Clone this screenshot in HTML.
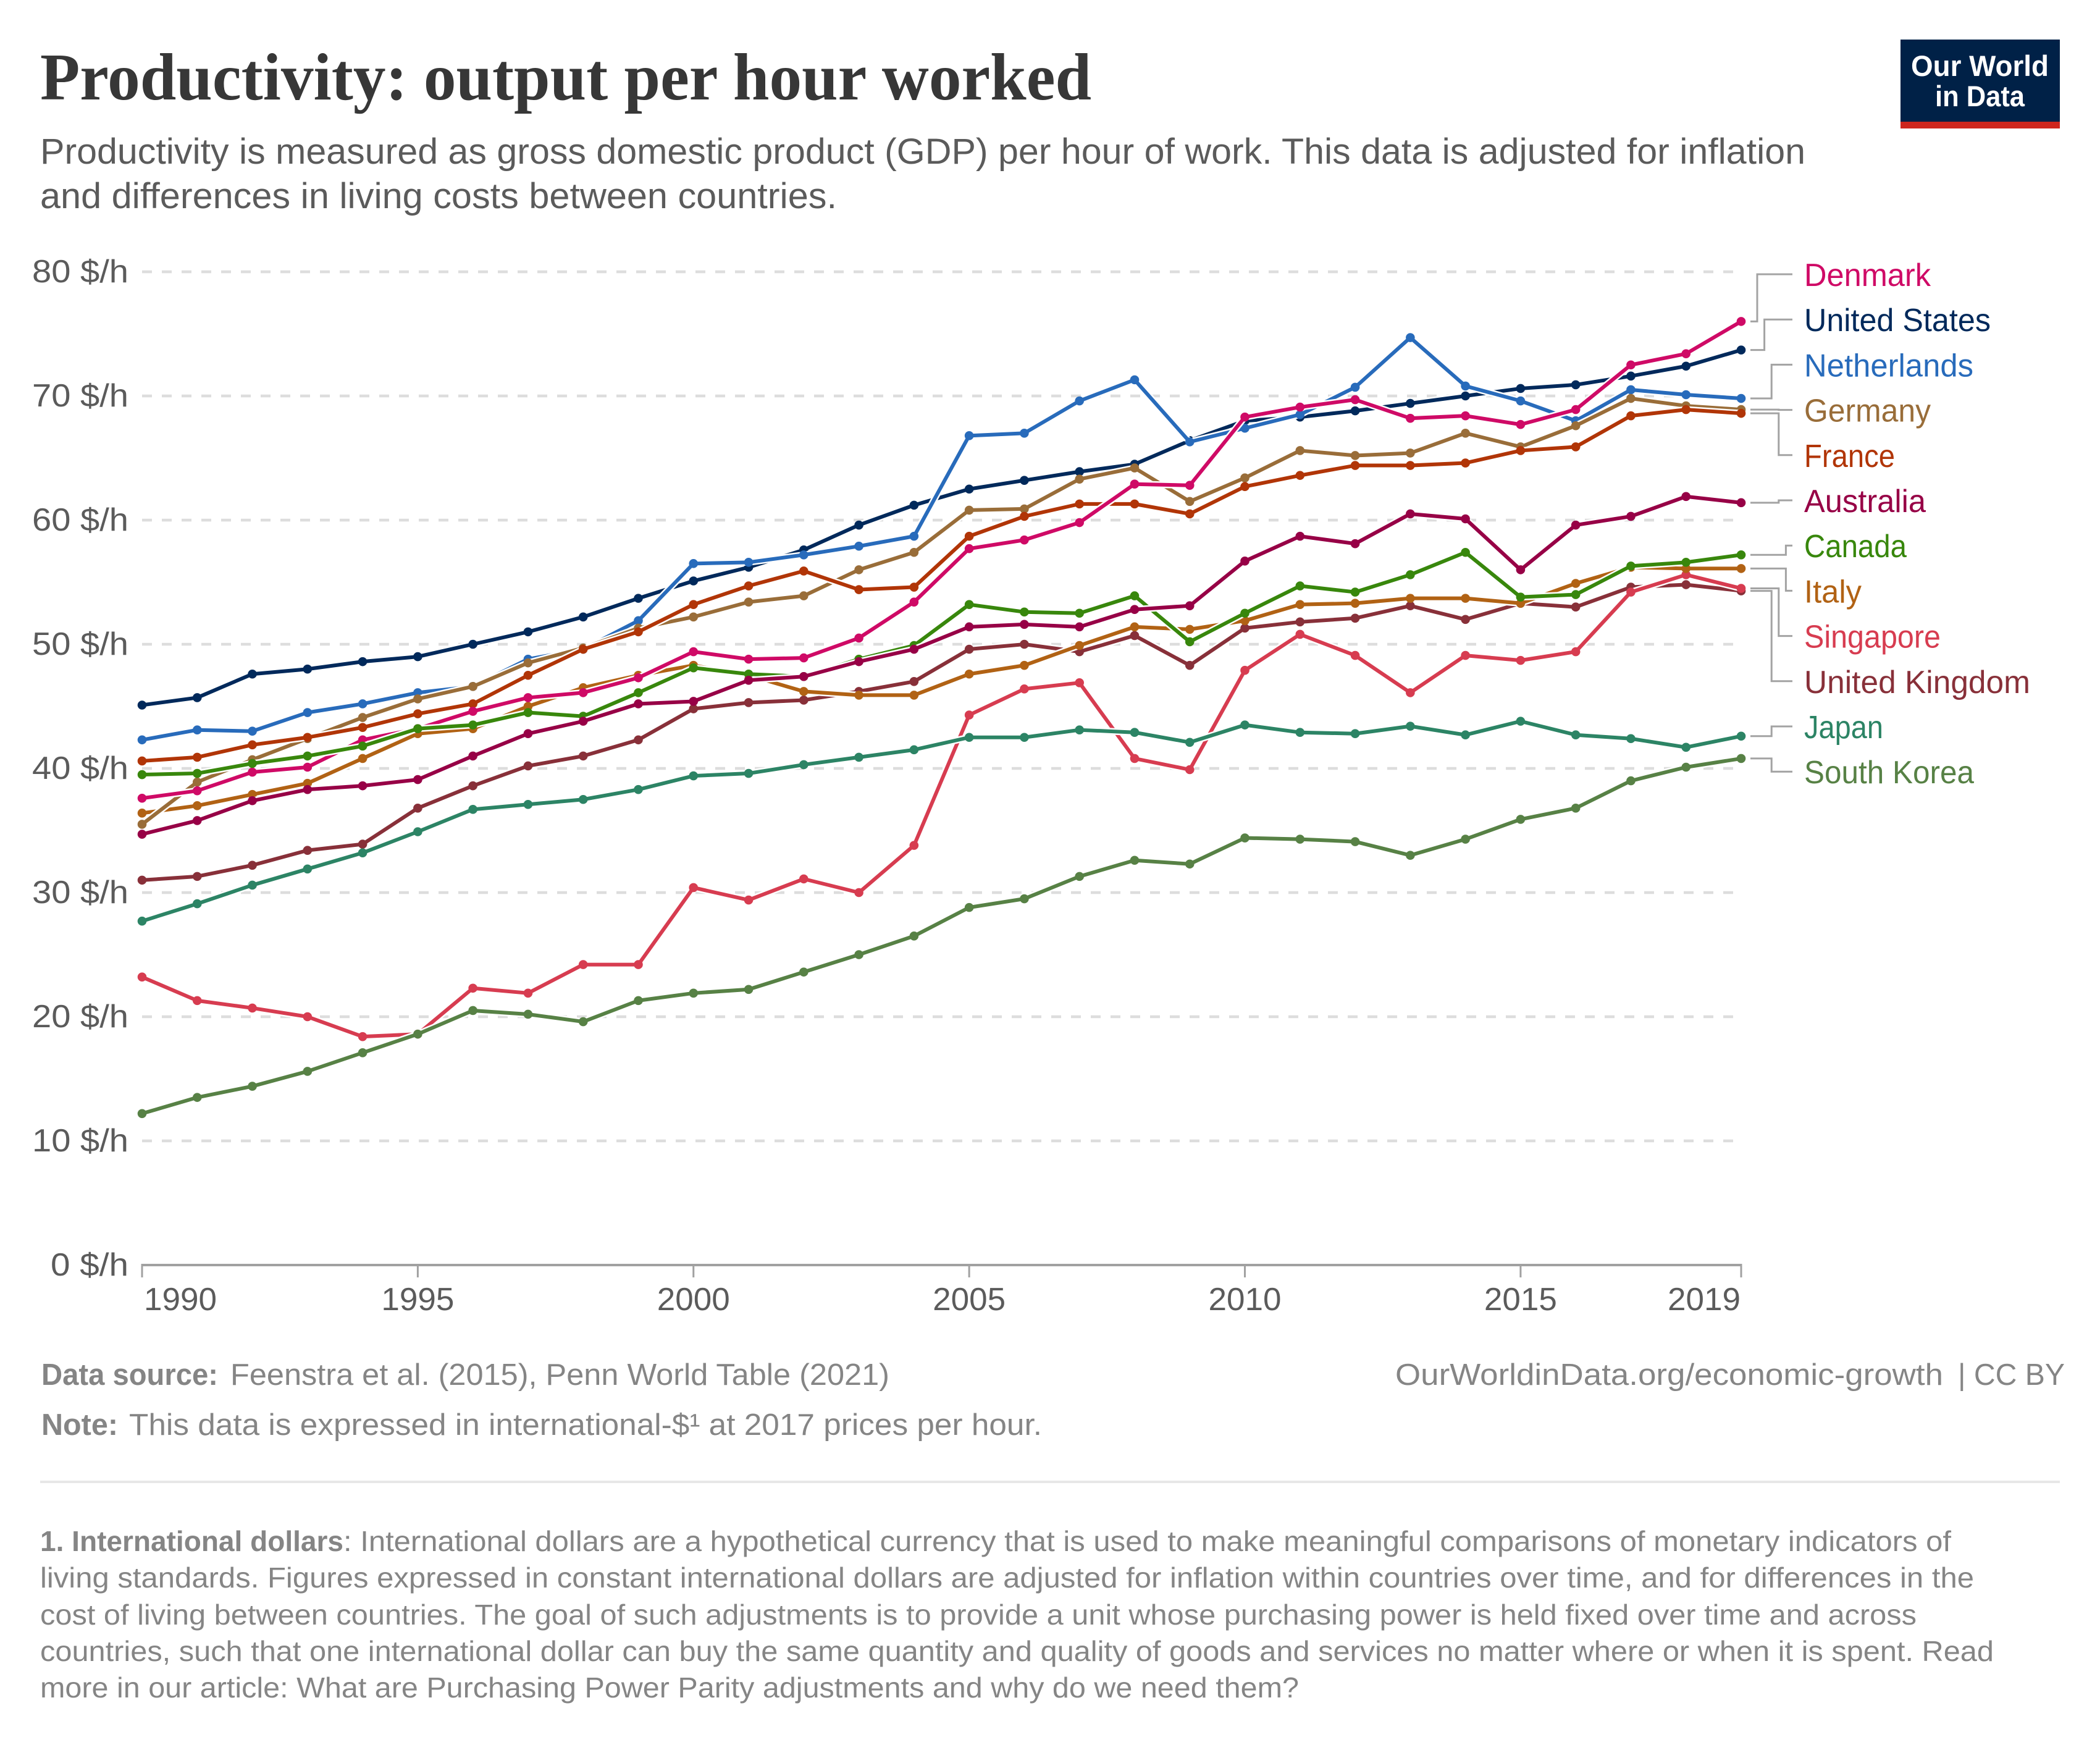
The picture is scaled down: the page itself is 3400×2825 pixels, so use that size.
<!DOCTYPE html>
<html lang="en">
<head>
<meta charset="utf-8">
<title>Productivity: output per hour worked</title>
<style>
html,body{margin:0;padding:0;background:#fff;}
svg{display:block;}
text{font-family:"Liberation Sans",sans-serif;}
.title{font-family:"Liberation Serif",serif;font-weight:700;font-size:108px;fill:#373737;}
.sub{font-size:58px;fill:#5b5b5b;}
.foot{font-size:49px;fill:#858585;}
.note{font-size:46px;fill:#858585;}
.b{font-weight:700;}
.tick{font-size:52px;fill:#5b5b5b;}
.legend{font-size:52px;}
</style>
</head>
<body>
<svg id="chart" xmlns="http://www.w3.org/2000/svg" width="3400" height="2825" viewBox="0 0 3400 2825">
  <rect width="3400" height="2825" fill="#fff"/>
  <text class="title" x="65" y="161" textLength="1702" lengthAdjust="spacingAndGlyphs">Productivity: output per hour worked</text>
  <text class="sub" x="65" y="265" textLength="2858" lengthAdjust="spacingAndGlyphs">Productivity is measured as gross domestic product (GDP) per hour of work. This data is adjusted for inflation</text>
  <text class="sub" x="65" y="337" textLength="1290" lengthAdjust="spacingAndGlyphs">and differences in living costs between countries.</text>

  <g>
    <rect x="3077" y="64" width="258" height="133" fill="#002147"/>
    <rect x="3077" y="197" width="258" height="11" fill="#ce261e"/>
    <text x="3094" y="123" font-size="47" font-weight="700" fill="#fff" textLength="223" lengthAdjust="spacingAndGlyphs">Our World</text>
    <text x="3133" y="172" font-size="47" font-weight="700" fill="#fff" textLength="145" lengthAdjust="spacingAndGlyphs">in Data</text>
  </g>

  <g id="grid"></g>
  <g id="axes"></g>
  <g id="connectors"></g>
  <g id="series"></g>
  <g id="legend"></g>

  <g>
    <text class="foot b" x="67" y="2242" textLength="286" lengthAdjust="spacingAndGlyphs">Data source:</text>
    <text class="foot" x="373" y="2242" textLength="1067" lengthAdjust="spacingAndGlyphs">Feenstra et al. (2015), Penn World Table (2021)</text>
    <text class="foot" x="2259" y="2242" textLength="887" lengthAdjust="spacingAndGlyphs">OurWorldinData.org/economic-growth</text>
    <text class="foot" x="3170" y="2242" textLength="173" lengthAdjust="spacingAndGlyphs">| CC BY</text>
    <text class="foot b" x="67" y="2323" textLength="124" lengthAdjust="spacingAndGlyphs">Note:</text>
    <text class="foot" x="209" y="2323" textLength="1478" lengthAdjust="spacingAndGlyphs">This data is expressed in international-$¹ at 2017 prices per hour.</text>
    <rect x="65" y="2397" width="3270" height="4" fill="#e7e7e7"/>
    <text class="note b" x="65" y="2511" textLength="491" lengthAdjust="spacingAndGlyphs">1. International dollars</text>
    <text class="note" x="556" y="2511" textLength="2603" lengthAdjust="spacingAndGlyphs">: International dollars are a hypothetical currency that is used to make meaningful comparisons of monetary indicators of</text>
    <text class="note" x="65" y="2570" textLength="3131" lengthAdjust="spacingAndGlyphs">living standards. Figures expressed in constant international dollars are adjusted for inflation within countries over time, and for differences in the</text>
    <text class="note" x="65" y="2630" textLength="3038" lengthAdjust="spacingAndGlyphs">cost of living between countries. The goal of such adjustments is to provide a unit whose purchasing power is held fixed over time and across</text>
    <text class="note" x="65" y="2689" textLength="3163" lengthAdjust="spacingAndGlyphs">countries, such that one international dollar can buy the same quantity and quality of goods and services no matter where or when it is spent. Read</text>
    <text class="note" x="65" y="2748" textLength="2038" lengthAdjust="spacingAndGlyphs">more in our article: What are Purchasing Power Parity adjustments and why do we need them?</text>
  </g>
</svg>

<script>
const years = [1990,1991,1992,1993,1994,1995,1996,1997,1998,1999,2000,2001,2002,2003,2004,2005,2006,2007,2008,2009,2010,2011,2012,2013,2014,2015,2016,2017,2018,2019];
const yTickValues = [0,10,20,30,40,50,60,70,80];
const xTickValues = [1990,1995,2000,2005,2010,2015,2019];
const denmark = [37.6,38.2,39.7,40.1,42.3,43.2,44.6,45.7,46.1,47.3,49.4,48.8,48.9,50.5,53.4,57.7,58.4,59.8,62.9,62.8,68.3,69.1,69.7,68.2,68.4,67.7,68.9,72.5,73.4,76.0];
const unitedStates = [45.1,45.7,47.6,48.0,48.6,49.0,50.0,51.0,52.2,53.7,55.1,56.2,57.6,59.6,61.2,62.5,63.2,63.9,64.5,66.4,68.0,68.3,68.8,69.4,70.0,70.6,70.9,71.6,72.4,73.7];
const netherlands = [42.3,43.1,43.0,44.5,45.2,46.1,46.6,48.8,49.6,51.9,56.5,56.6,57.2,57.9,58.7,66.8,67.0,69.6,71.3,66.3,67.4,68.5,70.7,74.7,70.8,69.6,68.0,70.5,70.1,69.8];
const germany = [35.5,38.9,40.7,42.4,44.1,45.6,46.6,48.5,49.7,51.3,52.2,53.4,53.9,56.0,57.4,60.8,60.9,63.3,64.2,61.5,63.4,65.6,65.2,65.4,67.0,65.9,67.6,69.8,69.2,68.9];
const france = [40.6,40.9,41.9,42.5,43.3,44.4,45.2,47.5,49.6,51.0,53.2,54.7,55.9,54.4,54.6,58.7,60.3,61.3,61.3,60.5,62.7,63.6,64.4,64.4,64.6,65.6,65.9,68.4,68.9,68.6];
const australia = [34.7,35.8,37.4,38.3,38.6,39.1,41.0,42.8,43.8,45.2,45.4,47.1,47.4,48.6,49.6,51.4,51.6,51.4,52.8,53.1,56.7,58.7,58.1,60.5,60.1,56.0,59.6,60.3,61.9,61.4];
const canada = [39.5,39.6,40.4,41.0,41.8,43.2,43.5,44.5,44.2,46.1,48.1,47.6,47.4,48.8,49.9,53.2,52.6,52.5,53.9,50.2,52.5,54.7,54.2,55.6,57.4,53.8,54.0,56.3,56.6,57.2];
const italy = [36.4,37.0,37.9,38.8,40.8,42.8,43.2,45.0,46.5,47.5,48.3,47.5,46.2,45.9,45.9,47.6,48.3,49.9,51.4,51.2,51.9,53.2,53.3,53.7,53.7,53.3,54.9,56.2,56.1,56.1];
const singapore = [23.2,21.3,20.7,20.0,18.4,18.6,22.3,21.9,24.2,24.2,30.4,29.4,31.1,30.0,33.8,44.3,46.4,46.9,40.8,39.9,47.9,50.8,49.1,46.1,49.1,48.7,49.4,54.2,55.6,54.5];
const unitedKingdom = [31.0,31.3,32.2,33.4,33.9,36.8,38.6,40.2,41.0,42.3,44.8,45.3,45.5,46.2,47.0,49.6,50.0,49.4,50.7,48.3,51.3,51.8,52.1,53.1,52.0,53.3,53.0,54.6,54.8,54.3];
const japan = [27.7,29.1,30.6,31.9,33.2,34.9,36.7,37.1,37.5,38.3,39.4,39.6,40.3,40.9,41.5,42.5,42.5,43.1,42.9,42.1,43.5,42.9,42.8,43.4,42.7,43.8,42.7,42.4,41.7,42.6];
const southKorea = [12.2,13.5,14.4,15.6,17.1,18.6,20.5,20.2,19.6,21.3,21.9,22.2,23.6,25.0,26.5,28.8,29.5,31.3,32.6,32.3,34.4,34.3,34.1,33.0,34.3,35.9,36.8,39.0,40.1,40.8];

const NS = 'http://www.w3.org/2000/svg';
const plotLeft = 230, plotRight = 2819, plotBottom = 2048, unitHeight = 20.1;
function xScale(year) { return plotLeft + (year - years[0]) * (plotRight - plotLeft) / (years[years.length - 1] - years[0]); }
function yScale(value) { return plotBottom - value * unitHeight; }
function make(tag, attrs, parent) {
  const el = document.createElementNS(NS, tag);
  for (const k in attrs) el.setAttribute(k, attrs[k]);
  parent.appendChild(el);
  return el;
}
function slug(s) { return s.toLowerCase().replace(/\s+/g, '-'); }

/* Legend rows, top to bottom. Label width and connector elbow level are layout hints. */
const rows = [
  { name: 'Denmark', values: denmark, color: '#cf0a66', width: 205, level: 0 },
  { name: 'United States', values: unitedStates, color: '#00295b', width: 302, level: 1 },
  { name: 'Netherlands', values: netherlands, color: '#286bbb', width: 274, level: 2 },
  { name: 'Germany', values: germany, color: '#996d39', width: 205, level: 3 },
  { name: 'France', values: france, color: '#b13507', width: 147, level: 3 },
  { name: 'Australia', values: australia, color: '#970046', width: 197, level: 3 },
  { name: 'Canada', values: canada, color: '#38870c', width: 166, level: 4 },
  { name: 'Italy', values: italy, color: '#b16214', width: 93, level: 4 },
  { name: 'Singapore', values: singapore, color: '#d73c50', width: 221, level: 3 },
  { name: 'United Kingdom', values: unitedKingdom, color: '#883039', width: 366, level: 2 },
  { name: 'Japan', values: japan, color: '#2c8465', width: 128, level: 2 },
  { name: 'South Korea', values: southKorea, color: '#578145', width: 275, level: 2 }
];
const drawOrder = ['United Kingdom','Singapore','Japan','South Korea','Italy','United States','Netherlands','Germany','France','Denmark','Canada','Australia'];

const grid = document.getElementById('grid');
yTickValues.forEach(function (v) {
  if (v !== 0) {
    const line = make('line', { x1: plotLeft, x2: plotRight, y1: yScale(v), y2: yScale(v), stroke: '#dddddd', 'stroke-width': 4.5, 'stroke-dasharray': '16 16' }, grid);
    
    
  }
  const label = make('text', { x: 208, y: yScale(v) + 17, 'text-anchor': 'end', class: 'tick', textLength: v === 0 ? 126 : 156, lengthAdjust: 'spacingAndGlyphs' }, grid);
  label.textContent = v + ' $/h';
  
  
});

const axes = document.getElementById('axes');
const axisLine = make('line', { x1: plotLeft - 1.5, x2: plotRight + 1.5, y1: plotBottom, y2: plotBottom, stroke: '#a1a1a1', 'stroke-width': 4 }, axes);


xTickValues.forEach(function (yr, i) {
  const x = xScale(yr);
  const tick = make('line', { x1: x, x2: x, y1: plotBottom, y2: plotBottom + 20, stroke: '#a1a1a1', 'stroke-width': 3 }, axes);
  
  
  const isFirst = i === 0, isLast = i === xTickValues.length - 1;
  const label = make('text', { x: isFirst ? x + 3 : (isLast ? x - 1 : x), y: 2121, 'text-anchor': isFirst ? 'start' : (isLast ? 'end' : 'middle'), class: 'tick', textLength: 118, lengthAdjust: 'spacingAndGlyphs' }, axes);
  label.textContent = String(yr);
  
  
});

const legendGroup = document.getElementById('legend');
const connectorGroup = document.getElementById('connectors');
rows.forEach(function (row, i) {
  const baseline = 463 + i * 73.2;
  const label = make('text', { x: 2921, y: baseline, class: 'legend', fill: row.color, textLength: row.width, lengthAdjust: 'spacingAndGlyphs' }, legendGroup);
  label.textContent = row.name;
  
  
  const startY = yScale(row.values[row.values.length - 1]);
  const endY = baseline - 19;
  const elbow = 2845 + row.level * 11.6;
  const path = make('path', { d: 'M2834 ' + startY + 'H' + elbow + 'V' + endY + 'H2902', fill: 'none', stroke: '#a3a3a3', 'stroke-width': 3 }, connectorGroup);
  
  
});

const seriesGroup = document.getElementById('series');
drawOrder.forEach(function (name) {
  const row = rows.find(function (r) { return r.name === name; });
  const pts = row.values.map(function (v, i) { return xScale(years[i]) + ',' + yScale(v); }).join(' ');
  const g = make('g', {}, seriesGroup);
  
  
  const halo = make('polyline', { points: pts, fill: 'none', stroke: '#fff', 'stroke-width': 11, 'stroke-linejoin': 'round' }, g);
  
  
  const line = make('polyline', { points: pts, fill: 'none', stroke: row.color, 'stroke-width': 6, 'stroke-linejoin': 'round' }, g);
  
  
  row.values.forEach(function (v, i) {
    const dot = make('circle', { cx: xScale(years[i]), cy: yScale(v), r: 7.3, fill: row.color }, g);
    
    
  });
});
</script>
</body>
</html>
